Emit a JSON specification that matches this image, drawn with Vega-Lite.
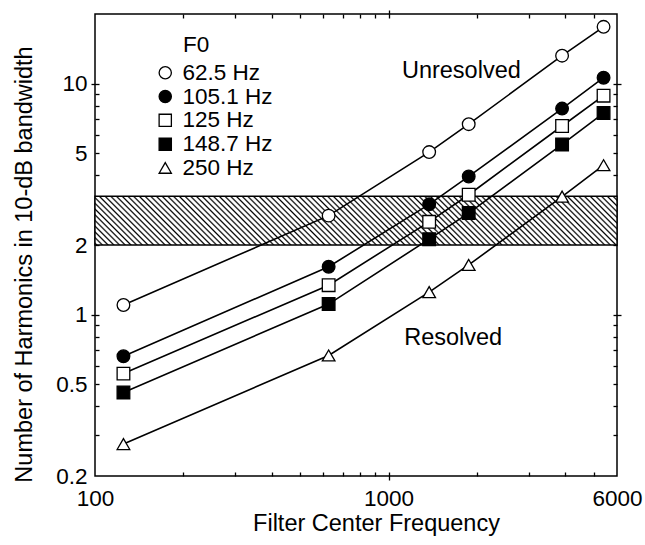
{
  "$schema": "https://vega.github.io/schema/vega-lite/v6.json",
  "width": 522,
  "height": 462,
  "autosize": {"type": "none"},
  "padding": {"left": 95, "top": 14, "right": 28, "bottom": 69},
  "background": "white",
  "config": {
    "view": {"stroke": "black", "strokeWidth": 1.5},
    "font": "Liberation Sans",
    "axis": {
      "grid": false,
      "domain": false,
      "labelColor": "black",
      "titleColor": "black",
      "tickColor": "black",
      "tickWidth": 1.3,
      "labelFont": "Liberation Sans",
      "titleFont": "Liberation Sans",
      "titleFontWeight": "normal"
    },
    "legend": {
      "labelFont": "Liberation Sans",
      "titleFont": "Liberation Sans",
      "titleFontWeight": "normal",
      "labelColor": "black",
      "titleColor": "black"
    }
  },
  "datasets": {
    "curves": [
      {"f0": "62.5 Hz", "freq": 125, "n": 1.10},
      {"f0": "62.5 Hz", "freq": 625, "n": 2.68},
      {"f0": "62.5 Hz", "freq": 1375, "n": 5.05},
      {"f0": "62.5 Hz", "freq": 1875, "n": 6.67},
      {"f0": "62.5 Hz", "freq": 3900, "n": 13.2},
      {"f0": "62.5 Hz", "freq": 5400, "n": 17.6},
      {"f0": "105.1 Hz", "freq": 125, "n": 0.66},
      {"f0": "105.1 Hz", "freq": 625, "n": 1.61},
      {"f0": "105.1 Hz", "freq": 1375, "n": 3.0},
      {"f0": "105.1 Hz", "freq": 1875, "n": 3.96},
      {"f0": "105.1 Hz", "freq": 3900, "n": 7.79},
      {"f0": "105.1 Hz", "freq": 5400, "n": 10.6},
      {"f0": "125 Hz", "freq": 125, "n": 0.555},
      {"f0": "125 Hz", "freq": 625, "n": 1.34},
      {"f0": "125 Hz", "freq": 1375, "n": 2.52},
      {"f0": "125 Hz", "freq": 1875, "n": 3.30},
      {"f0": "125 Hz", "freq": 3900, "n": 6.55},
      {"f0": "125 Hz", "freq": 5400, "n": 8.86},
      {"f0": "148.7 Hz", "freq": 125, "n": 0.46},
      {"f0": "148.7 Hz", "freq": 625, "n": 1.11},
      {"f0": "148.7 Hz", "freq": 1375, "n": 2.12},
      {"f0": "148.7 Hz", "freq": 1875, "n": 2.75},
      {"f0": "148.7 Hz", "freq": 3900, "n": 5.45},
      {"f0": "148.7 Hz", "freq": 5400, "n": 7.45},
      {"f0": "250 Hz", "freq": 125, "n": 0.275},
      {"f0": "250 Hz", "freq": 625, "n": 0.665},
      {"f0": "250 Hz", "freq": 1375, "n": 1.25},
      {"f0": "250 Hz", "freq": 1875, "n": 1.64},
      {"f0": "250 Hz", "freq": 3900, "n": 3.24},
      {"f0": "250 Hz", "freq": 5400, "n": 4.43}
    ],
    "band": [{"low": 2, "high": 3.25, "fmin": 100, "fmax": 6000}],
    "notes": [
      {"label": "Unresolved", "freq": 1770, "n": 11.3},
      {"label": "Resolved", "freq": 1660, "n": 0.79}
    ]
  },
  "resolve": {"axis": {"x": "independent", "y": "independent"}},
  "layer": [
    {
      "data": {"name": "band"},
      "mark": {
        "type": "rect",
        "stroke": "black",
        "strokeWidth": 1.4,
        "fill": {
          "gradient": "linear",
          "x1": 0, "y1": 1, "x2": 1.0839, "y2": 0.8989,
          "stops": [
            {"offset":0,"color":"#fff"},{"offset":0.003,"color":"#000"},{"offset":0.006,"color":"#fff"},
            {"offset":0.01,"color":"#fff"},{"offset":0.013,"color":"#000"},{"offset":0.016,"color":"#fff"},
            {"offset":0.02,"color":"#fff"},{"offset":0.023,"color":"#000"},{"offset":0.026,"color":"#fff"},
            {"offset":0.03,"color":"#fff"},{"offset":0.033,"color":"#000"},{"offset":0.036,"color":"#fff"},
            {"offset":0.04,"color":"#fff"},{"offset":0.043,"color":"#000"},{"offset":0.046,"color":"#fff"},
            {"offset":0.05,"color":"#fff"},{"offset":0.053,"color":"#000"},{"offset":0.056,"color":"#fff"},
            {"offset":0.06,"color":"#fff"},{"offset":0.063,"color":"#000"},{"offset":0.066,"color":"#fff"},
            {"offset":0.07,"color":"#fff"},{"offset":0.073,"color":"#000"},{"offset":0.076,"color":"#fff"},
            {"offset":0.08,"color":"#fff"},{"offset":0.083,"color":"#000"},{"offset":0.086,"color":"#fff"},
            {"offset":0.09,"color":"#fff"},{"offset":0.093,"color":"#000"},{"offset":0.096,"color":"#fff"},
            {"offset":0.10,"color":"#fff"},{"offset":0.103,"color":"#000"},{"offset":0.106,"color":"#fff"},
            {"offset":0.11,"color":"#fff"},{"offset":0.113,"color":"#000"},{"offset":0.116,"color":"#fff"},
            {"offset":0.12,"color":"#fff"},{"offset":0.123,"color":"#000"},{"offset":0.126,"color":"#fff"},
            {"offset":0.13,"color":"#fff"},{"offset":0.133,"color":"#000"},{"offset":0.136,"color":"#fff"},
            {"offset":0.14,"color":"#fff"},{"offset":0.143,"color":"#000"},{"offset":0.146,"color":"#fff"},
            {"offset":0.15,"color":"#fff"},{"offset":0.153,"color":"#000"},{"offset":0.156,"color":"#fff"},
            {"offset":0.16,"color":"#fff"},{"offset":0.163,"color":"#000"},{"offset":0.166,"color":"#fff"},
            {"offset":0.17,"color":"#fff"},{"offset":0.173,"color":"#000"},{"offset":0.176,"color":"#fff"},
            {"offset":0.18,"color":"#fff"},{"offset":0.183,"color":"#000"},{"offset":0.186,"color":"#fff"},
            {"offset":0.19,"color":"#fff"},{"offset":0.193,"color":"#000"},{"offset":0.196,"color":"#fff"},
            {"offset":0.20,"color":"#fff"},{"offset":0.203,"color":"#000"},{"offset":0.206,"color":"#fff"},
            {"offset":0.21,"color":"#fff"},{"offset":0.213,"color":"#000"},{"offset":0.216,"color":"#fff"},
            {"offset":0.22,"color":"#fff"},{"offset":0.223,"color":"#000"},{"offset":0.226,"color":"#fff"},
            {"offset":0.23,"color":"#fff"},{"offset":0.233,"color":"#000"},{"offset":0.236,"color":"#fff"},
            {"offset":0.24,"color":"#fff"},{"offset":0.243,"color":"#000"},{"offset":0.246,"color":"#fff"},
            {"offset":0.25,"color":"#fff"},{"offset":0.253,"color":"#000"},{"offset":0.256,"color":"#fff"},
            {"offset":0.26,"color":"#fff"},{"offset":0.263,"color":"#000"},{"offset":0.266,"color":"#fff"},
            {"offset":0.27,"color":"#fff"},{"offset":0.273,"color":"#000"},{"offset":0.276,"color":"#fff"},
            {"offset":0.28,"color":"#fff"},{"offset":0.283,"color":"#000"},{"offset":0.286,"color":"#fff"},
            {"offset":0.29,"color":"#fff"},{"offset":0.293,"color":"#000"},{"offset":0.296,"color":"#fff"},
            {"offset":0.30,"color":"#fff"},{"offset":0.303,"color":"#000"},{"offset":0.306,"color":"#fff"},
            {"offset":0.31,"color":"#fff"},{"offset":0.313,"color":"#000"},{"offset":0.316,"color":"#fff"},
            {"offset":0.32,"color":"#fff"},{"offset":0.323,"color":"#000"},{"offset":0.326,"color":"#fff"},
            {"offset":0.33,"color":"#fff"},{"offset":0.333,"color":"#000"},{"offset":0.336,"color":"#fff"},
            {"offset":0.34,"color":"#fff"},{"offset":0.343,"color":"#000"},{"offset":0.346,"color":"#fff"},
            {"offset":0.35,"color":"#fff"},{"offset":0.353,"color":"#000"},{"offset":0.356,"color":"#fff"},
            {"offset":0.36,"color":"#fff"},{"offset":0.363,"color":"#000"},{"offset":0.366,"color":"#fff"},
            {"offset":0.37,"color":"#fff"},{"offset":0.373,"color":"#000"},{"offset":0.376,"color":"#fff"},
            {"offset":0.38,"color":"#fff"},{"offset":0.383,"color":"#000"},{"offset":0.386,"color":"#fff"},
            {"offset":0.39,"color":"#fff"},{"offset":0.393,"color":"#000"},{"offset":0.396,"color":"#fff"},
            {"offset":0.40,"color":"#fff"},{"offset":0.403,"color":"#000"},{"offset":0.406,"color":"#fff"},
            {"offset":0.41,"color":"#fff"},{"offset":0.413,"color":"#000"},{"offset":0.416,"color":"#fff"},
            {"offset":0.42,"color":"#fff"},{"offset":0.423,"color":"#000"},{"offset":0.426,"color":"#fff"},
            {"offset":0.43,"color":"#fff"},{"offset":0.433,"color":"#000"},{"offset":0.436,"color":"#fff"},
            {"offset":0.44,"color":"#fff"},{"offset":0.443,"color":"#000"},{"offset":0.446,"color":"#fff"},
            {"offset":0.45,"color":"#fff"},{"offset":0.453,"color":"#000"},{"offset":0.456,"color":"#fff"},
            {"offset":0.46,"color":"#fff"},{"offset":0.463,"color":"#000"},{"offset":0.466,"color":"#fff"},
            {"offset":0.47,"color":"#fff"},{"offset":0.473,"color":"#000"},{"offset":0.476,"color":"#fff"},
            {"offset":0.48,"color":"#fff"},{"offset":0.483,"color":"#000"},{"offset":0.486,"color":"#fff"},
            {"offset":0.49,"color":"#fff"},{"offset":0.493,"color":"#000"},{"offset":0.496,"color":"#fff"},
            {"offset":0.50,"color":"#fff"},{"offset":0.503,"color":"#000"},{"offset":0.506,"color":"#fff"},
            {"offset":0.51,"color":"#fff"},{"offset":0.513,"color":"#000"},{"offset":0.516,"color":"#fff"},
            {"offset":0.52,"color":"#fff"},{"offset":0.523,"color":"#000"},{"offset":0.526,"color":"#fff"},
            {"offset":0.53,"color":"#fff"},{"offset":0.533,"color":"#000"},{"offset":0.536,"color":"#fff"},
            {"offset":0.54,"color":"#fff"},{"offset":0.543,"color":"#000"},{"offset":0.546,"color":"#fff"},
            {"offset":0.55,"color":"#fff"},{"offset":0.553,"color":"#000"},{"offset":0.556,"color":"#fff"},
            {"offset":0.56,"color":"#fff"},{"offset":0.563,"color":"#000"},{"offset":0.566,"color":"#fff"},
            {"offset":0.57,"color":"#fff"},{"offset":0.573,"color":"#000"},{"offset":0.576,"color":"#fff"},
            {"offset":0.58,"color":"#fff"},{"offset":0.583,"color":"#000"},{"offset":0.586,"color":"#fff"},
            {"offset":0.59,"color":"#fff"},{"offset":0.593,"color":"#000"},{"offset":0.596,"color":"#fff"},
            {"offset":0.60,"color":"#fff"},{"offset":0.603,"color":"#000"},{"offset":0.606,"color":"#fff"},
            {"offset":0.61,"color":"#fff"},{"offset":0.613,"color":"#000"},{"offset":0.616,"color":"#fff"},
            {"offset":0.62,"color":"#fff"},{"offset":0.623,"color":"#000"},{"offset":0.626,"color":"#fff"},
            {"offset":0.63,"color":"#fff"},{"offset":0.633,"color":"#000"},{"offset":0.636,"color":"#fff"},
            {"offset":0.64,"color":"#fff"},{"offset":0.643,"color":"#000"},{"offset":0.646,"color":"#fff"},
            {"offset":0.65,"color":"#fff"},{"offset":0.653,"color":"#000"},{"offset":0.656,"color":"#fff"},
            {"offset":0.66,"color":"#fff"},{"offset":0.663,"color":"#000"},{"offset":0.666,"color":"#fff"},
            {"offset":0.67,"color":"#fff"},{"offset":0.673,"color":"#000"},{"offset":0.676,"color":"#fff"},
            {"offset":0.68,"color":"#fff"},{"offset":0.683,"color":"#000"},{"offset":0.686,"color":"#fff"},
            {"offset":0.69,"color":"#fff"},{"offset":0.693,"color":"#000"},{"offset":0.696,"color":"#fff"},
            {"offset":0.70,"color":"#fff"},{"offset":0.703,"color":"#000"},{"offset":0.706,"color":"#fff"},
            {"offset":0.71,"color":"#fff"},{"offset":0.713,"color":"#000"},{"offset":0.716,"color":"#fff"},
            {"offset":0.72,"color":"#fff"},{"offset":0.723,"color":"#000"},{"offset":0.726,"color":"#fff"},
            {"offset":0.73,"color":"#fff"},{"offset":0.733,"color":"#000"},{"offset":0.736,"color":"#fff"},
            {"offset":0.74,"color":"#fff"},{"offset":0.743,"color":"#000"},{"offset":0.746,"color":"#fff"},
            {"offset":0.75,"color":"#fff"},{"offset":0.753,"color":"#000"},{"offset":0.756,"color":"#fff"},
            {"offset":0.76,"color":"#fff"},{"offset":0.763,"color":"#000"},{"offset":0.766,"color":"#fff"},
            {"offset":0.77,"color":"#fff"},{"offset":0.773,"color":"#000"},{"offset":0.776,"color":"#fff"},
            {"offset":0.78,"color":"#fff"},{"offset":0.783,"color":"#000"},{"offset":0.786,"color":"#fff"},
            {"offset":0.79,"color":"#fff"},{"offset":0.793,"color":"#000"},{"offset":0.796,"color":"#fff"},
            {"offset":0.80,"color":"#fff"},{"offset":0.803,"color":"#000"},{"offset":0.806,"color":"#fff"},
            {"offset":0.81,"color":"#fff"},{"offset":0.813,"color":"#000"},{"offset":0.816,"color":"#fff"},
            {"offset":0.82,"color":"#fff"},{"offset":0.823,"color":"#000"},{"offset":0.826,"color":"#fff"},
            {"offset":0.83,"color":"#fff"},{"offset":0.833,"color":"#000"},{"offset":0.836,"color":"#fff"},
            {"offset":0.84,"color":"#fff"},{"offset":0.843,"color":"#000"},{"offset":0.846,"color":"#fff"},
            {"offset":0.85,"color":"#fff"},{"offset":0.853,"color":"#000"},{"offset":0.856,"color":"#fff"},
            {"offset":0.86,"color":"#fff"},{"offset":0.863,"color":"#000"},{"offset":0.866,"color":"#fff"},
            {"offset":0.87,"color":"#fff"},{"offset":0.873,"color":"#000"},{"offset":0.876,"color":"#fff"},
            {"offset":0.88,"color":"#fff"},{"offset":0.883,"color":"#000"},{"offset":0.886,"color":"#fff"},
            {"offset":0.89,"color":"#fff"},{"offset":0.893,"color":"#000"},{"offset":0.896,"color":"#fff"},
            {"offset":0.90,"color":"#fff"},{"offset":0.903,"color":"#000"},{"offset":0.906,"color":"#fff"},
            {"offset":0.91,"color":"#fff"},{"offset":0.913,"color":"#000"},{"offset":0.916,"color":"#fff"},
            {"offset":0.92,"color":"#fff"},{"offset":0.923,"color":"#000"},{"offset":0.926,"color":"#fff"},
            {"offset":0.93,"color":"#fff"},{"offset":0.933,"color":"#000"},{"offset":0.936,"color":"#fff"},
            {"offset":0.94,"color":"#fff"},{"offset":0.943,"color":"#000"},{"offset":0.946,"color":"#fff"},
            {"offset":0.95,"color":"#fff"},{"offset":0.953,"color":"#000"},{"offset":0.956,"color":"#fff"},
            {"offset":0.96,"color":"#fff"},{"offset":0.963,"color":"#000"},{"offset":0.966,"color":"#fff"},
            {"offset":0.97,"color":"#fff"},{"offset":0.973,"color":"#000"},{"offset":0.976,"color":"#fff"},
            {"offset":0.98,"color":"#fff"},{"offset":0.983,"color":"#000"},{"offset":0.986,"color":"#fff"},
            {"offset":0.99,"color":"#fff"},{"offset":0.993,"color":"#000"},{"offset":0.996,"color":"#fff"},
            {"offset":1,"color":"#fff"}
          ]
        }
      },
      "encoding": {
        "x": {
          "field": "fmin", "type": "quantitative",
          "scale": {"type": "log", "domain": [100, 6000], "nice": false},
          "axis": {
            "orient": "bottom", "values": [100, 1000, 6000], "format": "d",
            "ticks": false, "labelFontSize": 22.5, "labelPadding": 11,
            "labelFlush": false, "labelOverlap": false,
            "title": "Filter Center Frequency", "titleFontSize": 23.5,
            "titlePadding": 2, "titleX": 281
          }
        },
        "x2": {"field": "fmax"},
        "y": {
          "field": "low", "type": "quantitative",
          "scale": {"type": "log", "domain": [0.2, 20], "nice": false},
          "axis": {
            "orient": "left", "values": [0.2, 0.5, 1, 2, 5, 10], "format": "~g",
            "ticks": false, "labelFontSize": 22.5, "labelPadding": 8,
            "labelFlush": false, "labelOverlap": false,
            "title": "Number of Harmonics in 10-dB bandwidth", "titleFontSize": 23.5,
            "titlePadding": 19, "titleY": 250
          }
        },
        "y2": {"field": "high"}
      }
    },
    {
      "data": {"name": "curves"},
      "mark": {"type": "line", "color": "black", "strokeWidth": 1.6},
      "encoding": {
        "x": {
          "field": "freq", "type": "quantitative",
          "scale": {"type": "log", "domain": [100, 6000], "nice": false},
          "axis": {"orient": "bottom", "values": [1000], "tickSize": 8, "offset": -4, "labels": false, "title": null}
        },
        "y": {
          "field": "n", "type": "quantitative",
          "scale": {"type": "log", "domain": [0.2, 20], "nice": false},
          "axis": {"orient": "left", "values": [1, 10], "tickSize": 8, "offset": -4, "labels": false, "title": null}
        },
        "detail": {"field": "f0", "type": "nominal"}
      }
    },
    {
      "data": {"name": "curves"},
      "mark": {"type": "point", "filled": true, "strokeWidth": 1.3, "size": 160, "opacity": 1},
      "encoding": {
        "x": {
          "field": "freq", "type": "quantitative",
          "scale": {"type": "log", "domain": [100, 6000], "nice": false},
          "axis": {"orient": "bottom", "values": [200, 300, 400, 500, 600, 700, 800, 900, 2000, 3000, 4000, 5000], "tickSize": 4, "offset": -4, "labels": false, "title": null}
        },
        "y": {
          "field": "n", "type": "quantitative",
          "scale": {"type": "log", "domain": [0.2, 20], "nice": false},
          "axis": {"orient": "left", "values": [0.3, 0.4, 0.5, 0.6, 0.7, 0.8, 0.9, 2, 3, 4, 5, 6, 7, 8, 9], "tickSize": 4, "offset": -4, "labels": false, "title": null}
        },
        "shape": {
          "field": "f0", "type": "nominal",
          "scale": {"domain": ["62.5 Hz", "105.1 Hz", "125 Hz", "148.7 Hz", "250 Hz"], "range": ["circle", "circle", "square", "square", "triangle-up"]},
          "legend": {
            "title": "F0", "orient": "none", "legendX": 88, "legendY": 20, "padding": 0,
            "titleFontSize": 22.5, "labelFontSize": 22.5, "titlePadding": 5, "rowPadding": 0.8,
            "symbolSize": 150, "symbolStrokeWidth": 1.3,
            "symbolOffset": -29, "labelOffset": 6
          }
        },
        "fill": {
          "field": "f0", "type": "nominal",
          "scale": {"domain": ["62.5 Hz", "105.1 Hz", "125 Hz", "148.7 Hz", "250 Hz"], "range": ["white", "black", "white", "black", "white"]},
          "legend": {
            "title": "F0", "orient": "none", "legendX": 88, "legendY": 20, "padding": 0,
            "titleFontSize": 22.5, "labelFontSize": 22.5, "titlePadding": 5, "rowPadding": 0.8,
            "symbolSize": 150, "symbolStrokeWidth": 1.3,
            "symbolOffset": -29, "labelOffset": 6
          }
        },
        "stroke": {
          "field": "f0", "type": "nominal",
          "scale": {"domain": ["62.5 Hz", "105.1 Hz", "125 Hz", "148.7 Hz", "250 Hz"], "range": ["black", "black", "black", "black", "black"]},
          "legend": {
            "title": "F0", "orient": "none", "legendX": 88, "legendY": 20, "padding": 0,
            "titleFontSize": 22.5, "labelFontSize": 22.5, "titlePadding": 5, "rowPadding": 0.8,
            "symbolSize": 150, "symbolStrokeWidth": 1.3,
            "symbolOffset": -29, "labelOffset": 6
          }
        }
      }
    },
    {
      "data": {"name": "notes"},
      "transform": [{"filter": "datum.label == 'Unresolved'"}],
      "mark": {"type": "text", "fontSize": 23.5, "color": "black", "align": "center", "baseline": "middle", "font": "Liberation Sans"},
      "encoding": {
        "x": {
          "field": "freq", "type": "quantitative",
          "scale": {"type": "log", "domain": [100, 6000], "nice": false},
          "axis": {"orient": "top", "values": [1000], "tickSize": 8, "offset": -4, "labels": false, "title": null}
        },
        "y": {
          "field": "n", "type": "quantitative",
          "scale": {"type": "log", "domain": [0.2, 20], "nice": false},
          "axis": {"orient": "right", "values": [1, 10], "tickSize": 8, "offset": -4, "labels": false, "title": null}
        },
        "text": {"field": "label"}
      }
    },
    {
      "data": {"name": "notes"},
      "transform": [{"filter": "datum.label == 'Resolved'"}],
      "mark": {"type": "text", "fontSize": 23.5, "color": "black", "align": "center", "baseline": "middle", "font": "Liberation Sans"},
      "encoding": {
        "x": {
          "field": "freq", "type": "quantitative",
          "scale": {"type": "log", "domain": [100, 6000], "nice": false},
          "axis": {"orient": "top", "values": [200, 300, 400, 500, 600, 700, 800, 900, 2000, 3000, 4000, 5000], "tickSize": 4, "offset": -4, "labels": false, "title": null}
        },
        "y": {
          "field": "n", "type": "quantitative",
          "scale": {"type": "log", "domain": [0.2, 20], "nice": false},
          "axis": {"orient": "right", "values": [0.3, 0.4, 0.5, 0.6, 0.7, 0.8, 0.9, 2, 3, 4, 5, 6, 7, 8, 9], "tickSize": 4, "offset": -4, "labels": false, "title": null}
        },
        "text": {"field": "label"}
      }
    }
  ]
}
